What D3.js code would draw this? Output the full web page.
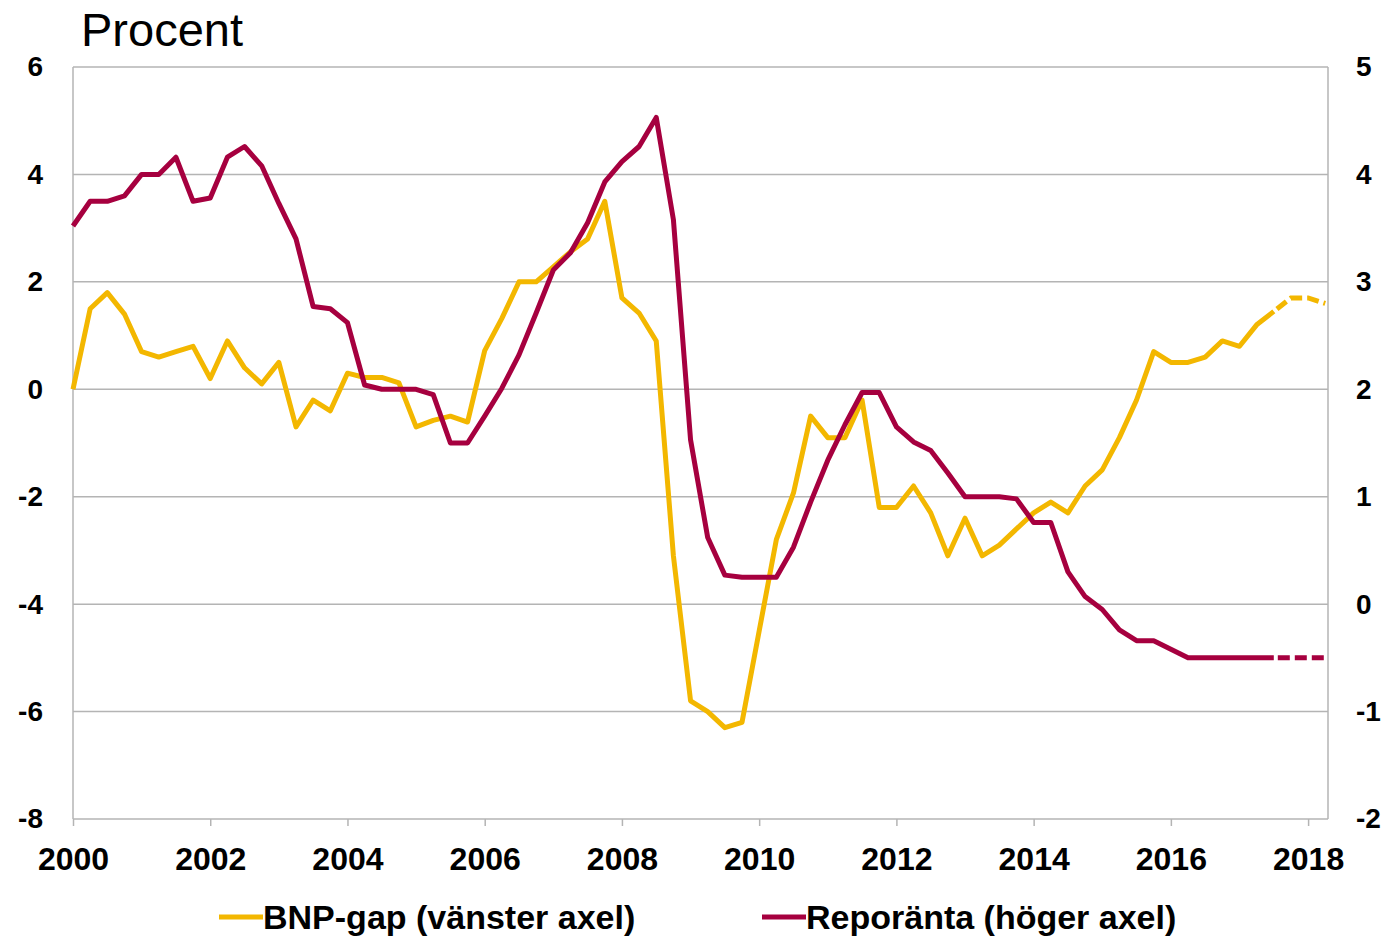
<!DOCTYPE html>
<html><head><meta charset="utf-8">
<script src="https://cdn.jsdelivr.net/npm/d3@7"></script>
<style>
html,body{margin:0;padding:0;background:#fff;}
svg{display:block;font-family:"Liberation Sans",Arial,sans-serif;}
</style></head>
<body>
<svg id="c" width="1391" height="939"></svg>
<script>
// quarterly data, first quarter = 2000 Q1
const startYear = 2000;
const forecastStart = 70; // index where dashed (forecast) part begins
const bnpGap = [
  0, 1.5, 1.8, 1.4,   0.7, 0.6, 0.7, 0.8,   0.2, 0.9, 0.4, 0.1,   0.5, -0.7, -0.2, -0.4,
  0.3, 0.22, 0.22, 0.12,   -0.7, -0.58, -0.5, -0.61,   0.72, 1.32, 2.0, 2.0,   2.28, 2.56, 2.8, 3.5,
  1.7, 1.42, 0.9, -3.1,   -5.8, -6.0, -6.3, -6.2,   -4.5, -2.8, -1.93, -0.5,   -0.9, -0.9, -0.2, -2.2,
  -2.2, -1.8, -2.3, -3.1,   -2.4, -3.1, -2.9, -2.6,   -2.3, -2.1, -2.3, -1.8,   -1.5, -0.9, -0.2, 0.7,
  0.5, 0.5, 0.6, 0.9,   0.8, 1.2, 1.45, 1.7,   1.7, 1.6
];
const repo = [
  3.52, 3.75, 3.75, 3.8,   4.0, 4.0, 4.16, 3.75,   3.78, 4.16, 4.26, 4.08,   3.73, 3.4, 2.77, 2.75,
  2.62, 2.04, 2.0, 2.0,   2.0, 1.95, 1.5, 1.5,   1.75, 2.01, 2.32, 2.71,   3.11, 3.27, 3.55, 3.93,
  4.12, 4.26, 4.53, 3.58,   1.53, 0.62, 0.27, 0.25,   0.25, 0.25, 0.53, 0.95,   1.34, 1.67, 1.97, 1.97,
  1.65, 1.51, 1.43, 1.22,   1.0, 1.0, 1.0, 0.98,   0.76, 0.76, 0.3, 0.07,   -0.05, -0.24, -0.34, -0.34,
  -0.42, -0.5, -0.5, -0.5,   -0.5, -0.5, -0.5, -0.5,   -0.5, -0.5
];
const xTicks = [2000, 2002, 2004, 2006, 2008, 2010, 2012, 2014, 2016, 2018];
const leftTicks = [6, 4, 2, 0, -2, -4, -6, -8];
const rightTicks = [5, 4, 3, 2, 1, 0, -1, -2];
const legendLabels = ["BNP-gap (vänster axel)", "Reporänta (höger axel)"];
const title = "Procent";

const colYellow = "#f3b700", colRed = "#a6003f", colGrid = "#b4b4b4";
const L = 73, R = 1328, T = 67, B = 819;
const FONT = "Liberation Sans, Arial, sans-serif";
const fmt = d => String(d); // plain hyphen-minus as in the original

const svg = d3.select("#c");
const x = d3.scaleLinear().domain([2000, 2018.29]).range([L, R]);
const yL = d3.scaleLinear().domain([-8, 6]).range([B, T]);
const yR = d3.scaleLinear().domain([-2, 5]).range([B, T]);

// gridlines
svg.append("g").selectAll("line").data(leftTicks.filter(v => v !== -8)).join("line")
  .attr("x1", L).attr("x2", R).attr("y1", d => yL(d)).attr("y2", d => yL(d))
  .attr("stroke", colGrid).attr("stroke-width", 1.5);
// side axes
[L, R].forEach(px => svg.append("line").attr("x1", px).attr("x2", px).attr("y1", T).attr("y2", B)
  .attr("stroke", colGrid).attr("stroke-width", 1.5));

// bottom axis
const xAxis = d3.axisBottom(x).tickValues(xTicks).tickFormat(fmt).tickSize(7).tickPadding(21);
const gx = svg.append("g").attr("transform", `translate(0,${B})`).call(xAxis);
gx.select(".domain").attr("stroke", colGrid).attr("stroke-width", 1.5).attr("d", `M${L},0H${R}`);
gx.selectAll(".tick line").attr("stroke", colGrid).attr("stroke-width", 1.5);
gx.selectAll(".tick text").attr("font-size", 32).attr("font-weight", "bold").attr("fill", "#000")
  .attr("font-family", FONT);

// left axis labels
const gl = svg.append("g").attr("transform", `translate(${L},0)`)
  .call(d3.axisLeft(yL).tickValues(leftTicks).tickFormat(fmt).tickSize(0).tickPadding(30));
gl.select(".domain").remove();
gl.selectAll(".tick text").attr("font-size", 28).attr("font-weight", "bold").attr("fill", "#000")
  .attr("font-family", FONT);

// right axis labels
const gr = svg.append("g").attr("transform", `translate(${R},0)`)
  .call(d3.axisRight(yR).tickValues(rightTicks).tickFormat(fmt).tickSize(0).tickPadding(28));
gr.select(".domain").remove();
gr.selectAll(".tick text").attr("font-size", 28).attr("font-weight", "bold").attr("fill", "#000")
  .attr("font-family", FONT);

// title
svg.append("text").attr("x", 81).attr("y", 46).attr("font-size", 47).attr("fill", "#000").text(title);

// lines
const t = i => startYear + i / 4;
function drawSeries(vals, yScale, color) {
  const pts = vals.map((v, i) => ({ i, v }));
  const line = d3.line().x(d => x(t(d.i))).y(d => yScale(d.v));
  svg.append("path").datum(pts.slice(0, forecastStart + 1))
    .attr("d", line)
    .attr("fill", "none").attr("stroke", color).attr("stroke-width", 5)
    .attr("stroke-linejoin", "round");
  svg.append("path").datum(pts.slice(forecastStart))
    .attr("d", line)
    .attr("fill", "none").attr("stroke", color).attr("stroke-width", 5)
    .attr("stroke-dasharray", "12,5").attr("stroke-dashoffset", -4);
}
drawSeries(bnpGap, yL, colYellow);
drawSeries(repo, yR, colRed);

// legend
const legend = [
  { label: legendLabels[0], color: colYellow, x0: 219 },
  { label: legendLabels[1], color: colRed, x0: 762 }
];
const lg = svg.append("g");
legend.forEach(d => {
  lg.append("line").attr("x1", d.x0).attr("x2", d.x0 + 44).attr("y1", 917).attr("y2", 917)
    .attr("stroke", d.color).attr("stroke-width", 5);
  lg.append("text").attr("x", d.x0 + 44).attr("y", 929).attr("font-size", 34).attr("font-weight", "bold")
    .attr("fill", "#000").text(d.label);
});
</script>
</body></html>
